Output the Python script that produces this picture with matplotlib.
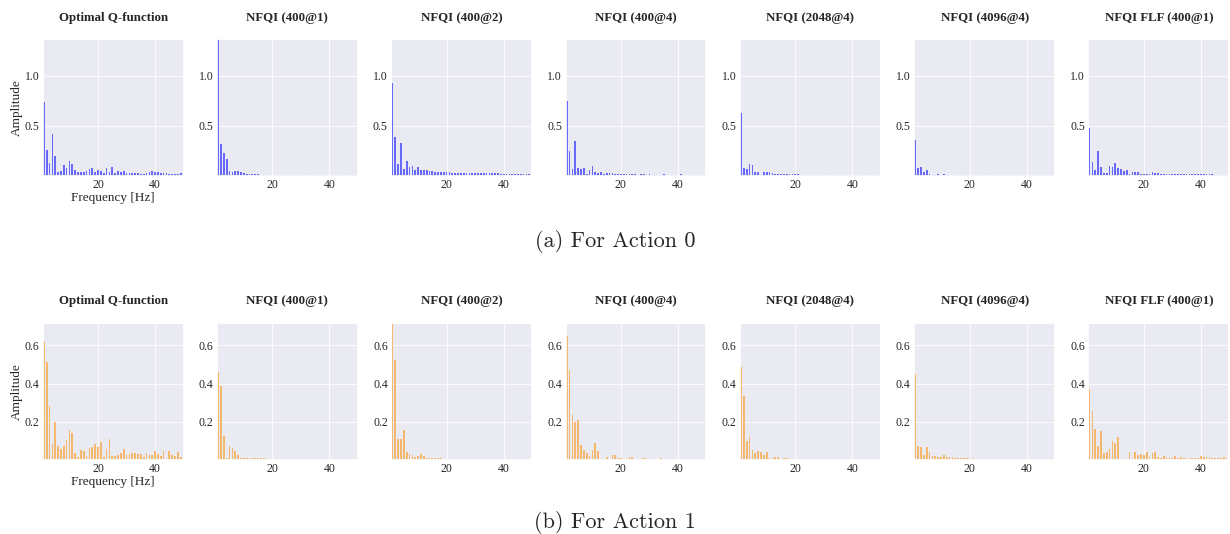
import matplotlib
matplotlib.use("Agg")
import matplotlib.pyplot as plt
import numpy as np
import seaborn as sns

# frequencies 1..50 Hz
freqs = np.arange(1, 51)

titles = ["Optimal Q-function", "NFQI (400@1)", "NFQI (400@2)", "NFQI (400@4)",
          "NFQI (2048@4)", "NFQI (4096@4)", "NFQI FLF (400@1)"]

# Action 0 amplitudes
a0_optimal = [0.74, 0.26, 0.13, 0.42, 0.20, 0.04, 0.05, 0.11, 0.08, 0.15,
              0.12, 0.06, 0.04, 0.04, 0.04, 0.05, 0.07, 0.08, 0.04, 0.06,
              0.05, 0.03, 0.08, 0.04, 0.09, 0.03, 0.05, 0.04, 0.05, 0.03,
              0.03, 0.03, 0.03, 0.03, 0.02, 0.02, 0.03, 0.04, 0.05, 0.04,
              0.04, 0.03, 0.03, 0.03, 0.02, 0.02, 0.02, 0.02, 0.03, 0.02]
a0_400_1 = [1.37, 0.32, 0.23, 0.17, 0.05, 0.04, 0.05, 0.05, 0.04, 0.03,
            0.02, 0.015, 0.015, 0.012, 0.012, 0.01, 0.01, 0.01, 0.01, 0.01,
            0.01, 0.01, 0.008, 0.008, 0.008, 0.008, 0.008, 0.008, 0.008, 0.007,
            0.007, 0.007, 0.007, 0.007, 0.007, 0.006, 0.006, 0.006, 0.006, 0.006,
            0.006, 0.006, 0.005, 0.005, 0.005, 0.005, 0.005, 0.005, 0.005, 0.005]
a0_400_2 = [0.93, 0.39, 0.12, 0.33, 0.07, 0.15, 0.09, 0.10, 0.06, 0.09,
            0.06, 0.06, 0.06, 0.05, 0.05, 0.04, 0.04, 0.04, 0.035, 0.035,
            0.035, 0.03, 0.03, 0.03, 0.03, 0.028, 0.028, 0.026, 0.026, 0.025,
            0.025, 0.024, 0.024, 0.023, 0.023, 0.022, 0.022, 0.022, 0.021, 0.021,
            0.02, 0.02, 0.02, 0.02, 0.02, 0.02, 0.02, 0.02, 0.02, 0.02]
a0_400_4 = [0.75, 0.25, 0.07, 0.35, 0.08, 0.07, 0.08, 0.02, 0.06, 0.10,
            0.04, 0.03, 0.04, 0.02, 0.03, 0.03, 0.03, 0.02, 0.015, 0.015,
            0.015, 0.012, 0.015, 0.012, 0.012, 0.01, 0.012, 0.012, 0.01, 0.012,
            0.01, 0.01, 0.01, 0.01, 0.012, 0.01, 0.01, 0.01, 0.01, 0.01,
            0.012, 0.01, 0.01, 0.01, 0.01, 0.008, 0.008, 0.008, 0.008, 0.008]
a0_2048_4 = [0.63, 0.08, 0.07, 0.12, 0.11, 0.04, 0.04, 0.01, 0.04, 0.04,
             0.04, 0.03, 0.02, 0.015, 0.015, 0.015, 0.015, 0.012, 0.012, 0.012,
             0.012, 0.01, 0.01, 0.01, 0.01, 0.01, 0.01, 0.008, 0.008, 0.008,
             0.008, 0.008, 0.008, 0.008, 0.008, 0.007, 0.007, 0.007, 0.007, 0.007,
             0.007, 0.007, 0.006, 0.006, 0.006, 0.006, 0.006, 0.006, 0.006, 0.006]
a0_4096_4 = [0.36, 0.08, 0.09, 0.04, 0.06, 0.02, 0.01, 0.01, 0.02, 0.01,
             0.015, 0.01, 0.01, 0.01, 0.01, 0.01, 0.01, 0.008, 0.008, 0.008,
             0.008, 0.008, 0.008, 0.007, 0.007, 0.007, 0.007, 0.007, 0.007, 0.006,
             0.006, 0.006, 0.006, 0.006, 0.006, 0.006, 0.006, 0.005, 0.005, 0.005,
             0.005, 0.005, 0.005, 0.005, 0.005, 0.005, 0.005, 0.005, 0.005, 0.005]
a0_flf_400_1 = [0.48, 0.14, 0.06, 0.25, 0.09, 0.03, 0.03, 0.10, 0.09, 0.13,
                0.08, 0.07, 0.05, 0.06, 0.02, 0.04, 0.04, 0.04, 0.02, 0.02,
                0.02, 0.015, 0.04, 0.03, 0.03, 0.015, 0.012, 0.02, 0.02, 0.02,
                0.015, 0.015, 0.012, 0.012, 0.012, 0.012, 0.012, 0.012, 0.015, 0.02,
                0.012, 0.012, 0.015, 0.012, 0.01, 0.01, 0.01, 0.01, 0.01, 0.01]

# Action 1 amplitudes
a1_optimal = [0.62, 0.515, 0.28, 0.085, 0.196, 0.074, 0.057, 0.074, 0.104, 0.154,
              0.14, 0.037, 0.012, 0.05, 0.044, 0.02, 0.06, 0.065, 0.085, 0.065,
              0.095, 0.012, 0.055, 0.108, 0.021, 0.021, 0.025, 0.037, 0.058, 0.027,
              0.03, 0.035, 0.034, 0.03, 0.03, 0.012, 0.035, 0.023, 0.027, 0.048,
              0.03, 0.02, 0.044, 0.009, 0.044, 0.025, 0.02, 0.039, 0.014, 0.01]
a1_400_1 = [0.46, 0.385, 0.126, 0.01, 0.07, 0.062, 0.048, 0.025, 0.008, 0.01,
            0.01, 0.01, 0.009, 0.009, 0.009, 0.007, 0.007, 0.006, 0.006, 0.006,
            0.006, 0.005, 0.005, 0.005, 0.005, 0.005, 0.005, 0.005, 0.005, 0.005,
            0.004, 0.004, 0.004, 0.004, 0.004, 0.004, 0.004, 0.004, 0.004, 0.004,
            0.004, 0.004, 0.004, 0.004, 0.004, 0.004, 0.004, 0.004, 0.004, 0.004]
a1_400_2 = [0.72, 0.525, 0.11, 0.108, 0.156, 0.042, 0.032, 0.025, 0.014, 0.02,
            0.028, 0.018, 0.01, 0.008, 0.008, 0.007, 0.007, 0.007, 0.006, 0.006,
            0.006, 0.006, 0.005, 0.005, 0.005, 0.005, 0.005, 0.005, 0.005, 0.005,
            0.005, 0.005, 0.005, 0.004, 0.004, 0.004, 0.004, 0.004, 0.004, 0.004,
            0.004, 0.004, 0.004, 0.004, 0.004, 0.004, 0.004, 0.004, 0.004, 0.004]
a1_400_4 = [0.65, 0.47, 0.235, 0.2, 0.207, 0.08, 0.05, 0.037, 0.02, 0.05,
            0.088, 0.046, 0.005, 0.005, 0.016, 0.006, 0.026, 0.025, 0.01, 0.01,
            0.005, 0.008, 0.012, 0.012, 0.005, 0.006, 0.006, 0.007, 0.008, 0.006,
            0.005, 0.005, 0.006, 0.007, 0.006, 0.005, 0.005, 0.005, 0.004, 0.006,
            0.005, 0.005, 0.005, 0.004, 0.004, 0.006, 0.005, 0.004, 0.004, 0.004]
a1_2048_4 = [0.487, 0.333, 0.1, 0.12, 0.05, 0.034, 0.046, 0.04, 0.025, 0.039,
             0.01, 0.008, 0.016, 0.016, 0.006, 0.01, 0.007, 0.006, 0.006, 0.006,
             0.006, 0.006, 0.005, 0.005, 0.005, 0.005, 0.005, 0.005, 0.005, 0.005,
             0.005, 0.005, 0.005, 0.005, 0.004, 0.004, 0.004, 0.004, 0.004, 0.004,
             0.004, 0.004, 0.004, 0.004, 0.004, 0.004, 0.004, 0.004, 0.004, 0.004]
a1_4096_4 = [0.45, 0.073, 0.067, 0.025, 0.067, 0.04, 0.02, 0.02, 0.016, 0.016,
             0.023, 0.014, 0.012, 0.012, 0.009, 0.009, 0.008, 0.008, 0.007, 0.007,
             0.007, 0.006, 0.006, 0.006, 0.006, 0.006, 0.005, 0.005, 0.005, 0.005,
             0.005, 0.005, 0.005, 0.005, 0.005, 0.005, 0.004, 0.004, 0.004, 0.004,
             0.004, 0.004, 0.004, 0.004, 0.004, 0.004, 0.004, 0.004, 0.004, 0.004]
a1_flf_400_1 = [0.37, 0.258, 0.16, 0.073, 0.152, 0.035, 0.04, 0.055, 0.1, 0.087,
                0.122, 0.004, 0.005, 0.005, 0.042, 0.01, 0.04, 0.023, 0.032, 0.025,
                0.042, 0.014, 0.037, 0.042, 0.016, 0.01, 0.018, 0.016, 0.014, 0.01,
                0.018, 0.01, 0.016, 0.01, 0.009, 0.01, 0.01, 0.009, 0.01, 0.018,
                0.014, 0.014, 0.012, 0.01, 0.01, 0.009, 0.009, 0.012, 0.008, 0.008]

rows = [
    [a0_optimal, a0_400_1, a0_400_2, a0_400_4, a0_2048_4, a0_4096_4, a0_flf_400_1],
    [a1_optimal, a1_400_1, a1_400_2, a1_400_4, a1_2048_4, a1_4096_4, a1_flf_400_1],
]
row_colors = ["blue", "darkorange"]
row_yticks = [[0.5, 1.0], [0.2, 0.4, 0.6]]
row_captions = ["(a) For Action 0", "(b) For Action 1"]
x_ticks = [20, 40]

sns.set_theme(style="darkgrid")
plt.rcParams["font.family"] = ["Liberation Serif", "DejaVu Serif"]
plt.rcParams["grid.linewidth"] = 0.6

fig = plt.figure(figsize=(12.3, 5.34), dpi=100)

# one gridspec per row: (top, bottom) in figure fractions
row_boxes = [(0.927, 0.671), (0.396, 0.139)]
caption_y = [0.548, 0.022]

for r, (top, bottom) in enumerate(row_boxes):
    gs = fig.add_gridspec(1, 7, left=0.0347, right=0.9995, top=top, bottom=bottom,
                          wspace=0.237)
    ymax = max(max(v) for v in rows[r])
    for c in range(7):
        ax = fig.add_subplot(gs[0, c])
        ax.bar(freqs, rows[r][c], width=0.6, color=row_colors[r], alpha=0.55,
               linewidth=0)
        ax.set_xlim(0.6, freqs.max())
        ax.set_ylim(0, ymax)
        ax.set_xticks(x_ticks)
        ax.set_yticks(row_yticks[r])
        ax.tick_params(labelsize=8.5, length=0, pad=2.5)
        ax.set_title(titles[c], fontsize=9.3, fontweight="bold", pad=13)
        if c == 0:
            ax.set_ylabel("Amplitude", fontsize=9.5, labelpad=1)
            ax.set_xlabel("Frequency [Hz]", fontsize=9.5, labelpad=0.5)
    fig.text(0.5, caption_y[r], row_captions[r], ha="center", va="center",
             fontsize=16, family="cmr10")

fig.savefig("out.png", dpi=100)
